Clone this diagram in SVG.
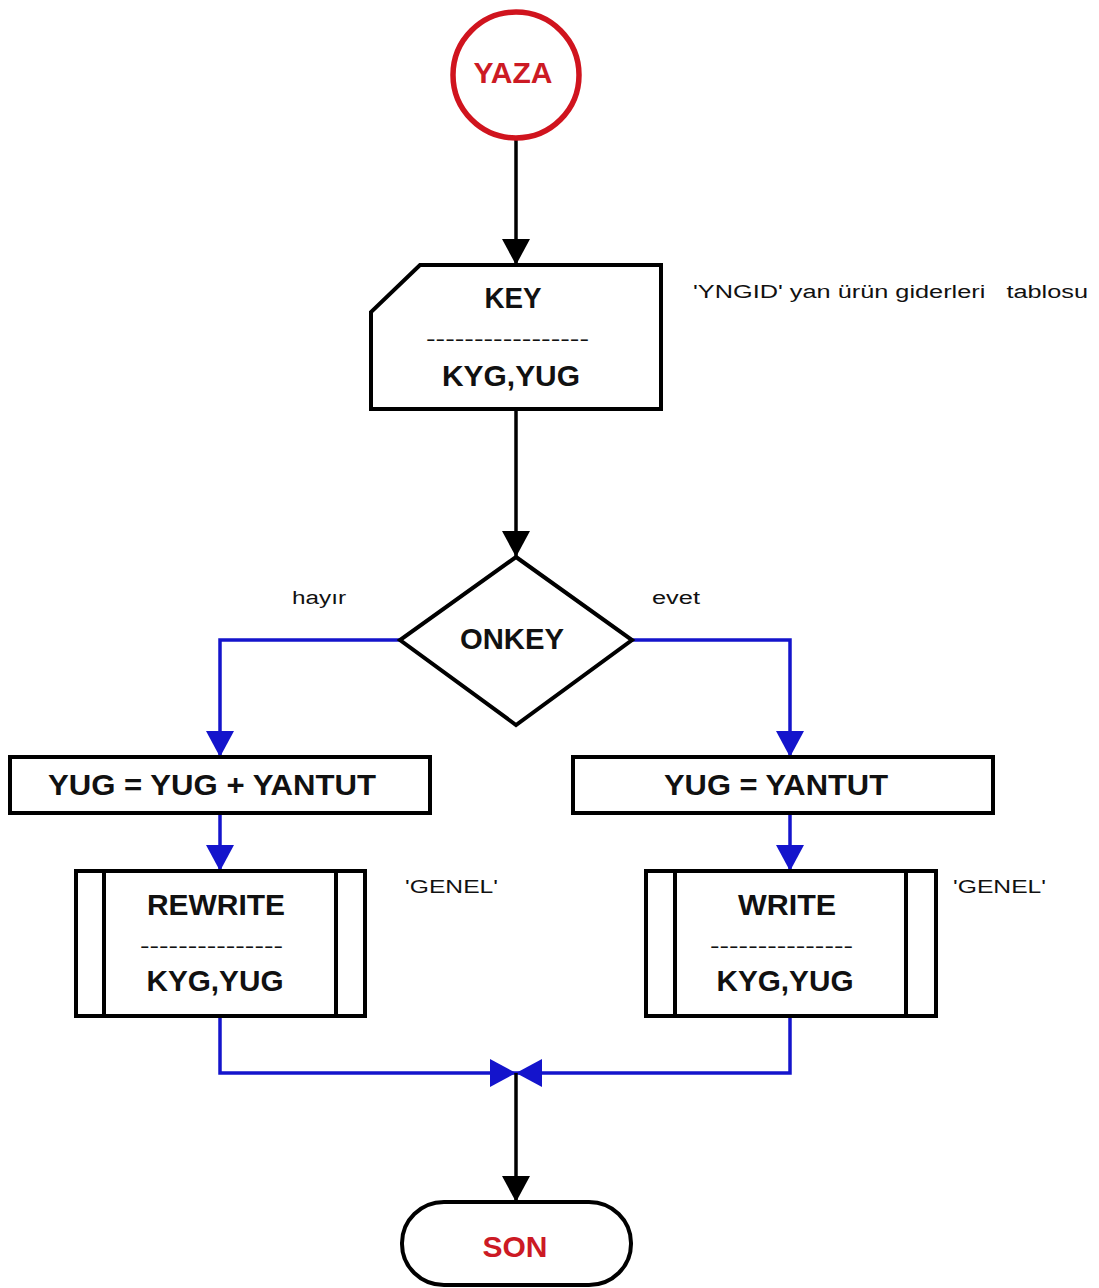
<svg xmlns="http://www.w3.org/2000/svg" width="1099" height="1288" viewBox="0 0 1099 1288">
<style>
.shape{fill:#fff;stroke:#000;stroke-width:4}
.bt{font-family:"Liberation Sans",Arial,sans-serif;font-weight:bold;font-size:30px;fill:#111;text-anchor:middle}
.red{fill:#cc1a24}
.dash{font-family:"Liberation Sans",Arial,sans-serif;font-size:20px;fill:#111}
.sm{font-family:"Liberation Sans",Arial,sans-serif;font-size:18px;fill:#111;white-space:pre}
.cb{fill:none;stroke:#000;stroke-width:3.5}
.cu{fill:none;stroke:#1414cc;stroke-width:3.5}
</style>
<defs>
<marker id="ab" viewBox="0 0 26 28" refX="26" refY="14" markerWidth="26" markerHeight="28" markerUnits="userSpaceOnUse" orient="auto"><path d="M0,0 L26,14 L0,28 Z" fill="#000"/></marker>
<marker id="au" viewBox="0 0 26 28" refX="26" refY="14" markerWidth="26" markerHeight="28" markerUnits="userSpaceOnUse" orient="auto"><path d="M0,0 L26,14 L0,28 Z" fill="#1414cc"/></marker>
</defs>
<rect width="1099" height="1288" fill="#fff"/>
<g id="connectors">
<path class="cb" d="M516,138 V265" marker-end="url(#ab)"/>
<path class="cb" d="M516,410 V557" marker-end="url(#ab)"/>
<path class="cu" d="M400,640 H220 V757" marker-end="url(#au)"/>
<path class="cu" d="M632,640 H790 V757" marker-end="url(#au)"/>
<path class="cu" d="M220,815 V871" marker-end="url(#au)"/>
<path class="cu" d="M790,815 V871" marker-end="url(#au)"/>
<path class="cu" d="M220,1017 V1073 H516" marker-end="url(#au)"/>
<path class="cu" d="M790,1017 V1073 H516" marker-end="url(#au)"/>
<path class="cb" d="M516,1073 V1202" marker-end="url(#ab)"/>
<text class="sm" x="292" y="604" textLength="54" lengthAdjust="spacingAndGlyphs">hayır</text>
<text class="sm" x="652" y="604" textLength="48" lengthAdjust="spacingAndGlyphs">evet</text>
</g>
<g id="start">
<circle cx="516" cy="75" r="63" fill="#fff" stroke="#d0141e" stroke-width="5.5"/>
<text class="bt red" x="513" y="83" font-size="28">YAZA</text>
</g>
<g id="key">
<path class="shape" d="M420,265 H661 V409 H371 V312 Z"/>
<text class="bt" x="513" y="308" textLength="57" lengthAdjust="spacingAndGlyphs">KEY</text>
<text class="dash" x="426" y="346" textLength="163" lengthAdjust="spacingAndGlyphs">-----------------</text>
<text class="bt" x="511" y="386" textLength="138" lengthAdjust="spacingAndGlyphs">KYG,YUG</text>
<text class="sm" x="693" y="298" textLength="395" lengthAdjust="spacingAndGlyphs">'YNGID' yan ürün giderleri   tablosu</text>
</g>
<g id="onkey">
<path class="shape" d="M516,557 L632,640 L516,725 L400,640 Z"/>
<text class="bt" x="512" y="649" font-size="29" textLength="104" lengthAdjust="spacingAndGlyphs">ONKEY</text>
</g>
<g id="left-assign">
<rect class="shape" x="10" y="757" width="420" height="56"/>
<text class="bt" x="212" y="795" textLength="328" lengthAdjust="spacingAndGlyphs">YUG = YUG + YANTUT</text>
</g>
<g id="right-assign">
<rect class="shape" x="573" y="757" width="420" height="56"/>
<text class="bt" x="776" y="795" textLength="224" lengthAdjust="spacingAndGlyphs">YUG = YANTUT</text>
</g>
<g id="rewrite">
<rect class="shape" x="76" y="871" width="289" height="145"/>
<path class="shape" d="M104,871 V1016 M336,871 V1016"/>
<text class="bt" x="216" y="915" textLength="138" lengthAdjust="spacingAndGlyphs">REWRITE</text>
<text class="dash" x="140" y="953" textLength="143" lengthAdjust="spacingAndGlyphs">---------------</text>
<text class="bt" x="215" y="991" textLength="137" lengthAdjust="spacingAndGlyphs">KYG,YUG</text>
<text class="sm" x="405" y="893" textLength="93" lengthAdjust="spacingAndGlyphs">'GENEL'</text>
</g>
<g id="write">
<rect class="shape" x="646" y="871" width="290" height="145"/>
<path class="shape" d="M675,871 V1016 M906,871 V1016"/>
<text class="bt" x="787" y="915" textLength="98" lengthAdjust="spacingAndGlyphs">WRITE</text>
<text class="dash" x="710" y="953" textLength="143" lengthAdjust="spacingAndGlyphs">---------------</text>
<text class="bt" x="785" y="991" textLength="137" lengthAdjust="spacingAndGlyphs">KYG,YUG</text>
<text class="sm" x="953" y="893" textLength="93" lengthAdjust="spacingAndGlyphs">'GENEL'</text>
</g>
<g id="son">
<rect class="shape" x="402" y="1202" width="229" height="83" rx="42" ry="41"/>
<text class="bt red" x="515" y="1257" textLength="65" lengthAdjust="spacingAndGlyphs">SON</text>
</g>
</svg>
